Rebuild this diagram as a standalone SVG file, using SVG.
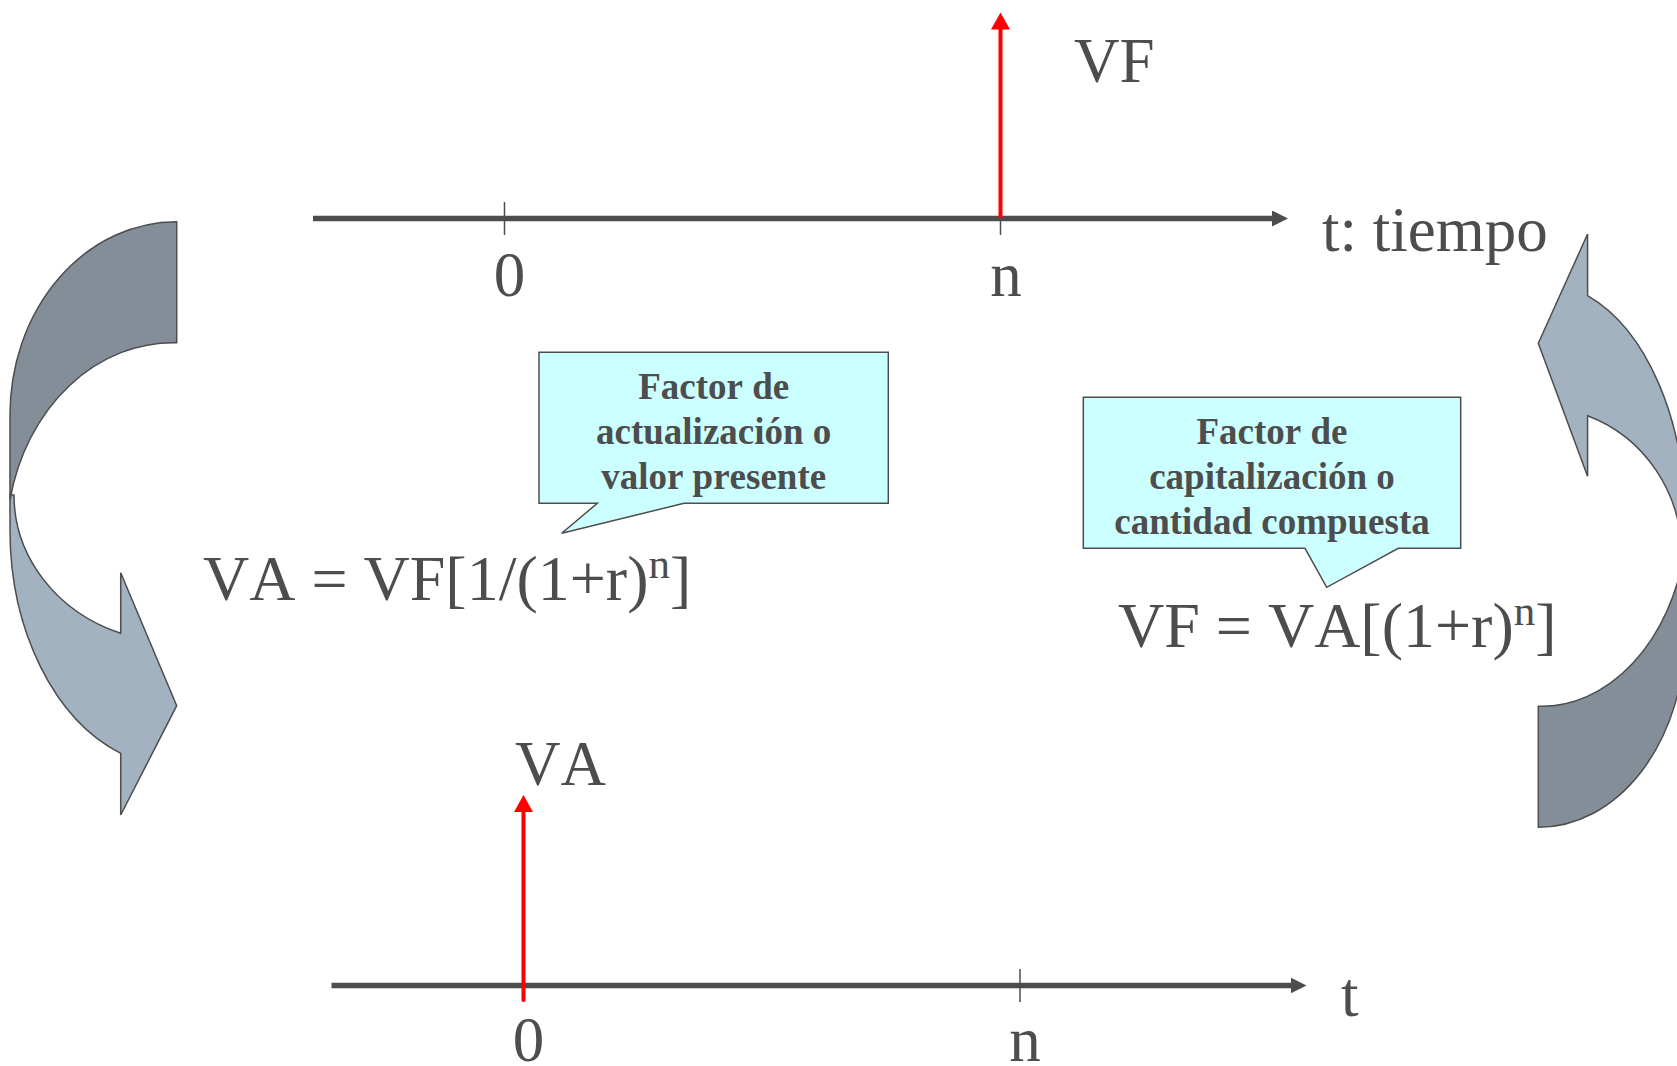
<svg xmlns="http://www.w3.org/2000/svg" xmlns:xlink="http://www.w3.org/1999/xlink" width="1677" height="1066" viewBox="0 0 1677 1066">
<style>
text{font-family:"Liberation Serif","Times New Roman",serif;fill:#4d4d4d;font-kerning:none}
.big{font-size:63px}
.form{font-size:64px}
.sup{font-size:43px}
.lbl{font-size:37px;font-weight:bold;text-anchor:middle}
.mid{text-anchor:middle}
.axis{stroke:#4d4d4d;stroke-width:5.7;fill:none}
.tick{stroke:#4d4d4d;stroke-width:1.5}
.red{stroke:#ff0000;stroke-width:4;fill:none}
.dark{fill:#848e99;stroke:#4d4d4d;stroke-width:1.5;vector-effect:non-scaling-stroke}
.light{fill:#a3b2c1;stroke:#4d4d4d;stroke-width:1.5;vector-effect:non-scaling-stroke}
.callout{fill:#ccffff;stroke:#4d4d4d;stroke-width:1.5}
</style>
<defs>
<marker id="axHead" markerUnits="userSpaceOnUse" markerWidth="16" markerHeight="16" viewBox="0 0 16 16" refX="1" refY="8" orient="auto">
<path d="M0,0 L16,8 L0,16 Z" fill="#4d4d4d"/>
</marker>
<marker id="redHead" markerUnits="userSpaceOnUse" markerWidth="17" markerHeight="19" viewBox="0 0 17 19" refX="1" refY="9.5" orient="auto">
<path d="M0,0 L17,9.5 L0,19 Z" fill="#ff0000"/>
</marker>
<g id="curvedArrow">
<path class="light" d="M10,495 L10,530 A166.7,237 0 0 0 120.7,753.3 L120.7,815 L176.7,705.7 L120.7,572.7 L120.7,633.3 A162.7,147.3 0 0 1 14,495 Z"/>
<path class="dark" d="M176.7,221.7 A166.7,193.3 0 0 0 10,415 L10,500 A166.7,197.3 0 0 1 176.7,342.7 Z"/>
</g>
</defs>

<g id="arrow-left">
<use xlink:href="#curvedArrow" href="#curvedArrow"/>
</g>
<g id="arrow-right">
<use xlink:href="#curvedArrow" href="#curvedArrow" transform="matrix(-0.88 0 0 -1 1693.8 1049)"/>
</g>

<g id="connectors">
<line class="axis" x1="313" y1="218.5" x2="1273" y2="218.5" marker-end="url(#axHead)"/>
<line class="tick" x1="504.5" y1="202" x2="504.5" y2="235"/>
<line class="tick" x1="1000.5" y1="202" x2="1000.5" y2="235"/>
<line class="red" x1="1000.5" y1="218" x2="1000.5" y2="28.5" marker-end="url(#redHead)"/>

<line class="axis" x1="331.5" y1="985.5" x2="1291.5" y2="985.5" marker-end="url(#axHead)"/>
<line class="tick" x1="523.5" y1="969" x2="523.5" y2="1002"/>
<line class="tick" x1="1020" y1="969" x2="1020" y2="1002"/>
<line class="red" x1="523.5" y1="1001.5" x2="523.5" y2="811" marker-end="url(#redHead)"/>
</g>

<g id="top-timeline-labels">
<text class="big" x="1074" y="82">VF</text>
<text class="big" x="1322" y="251">t: tiempo</text>
<text class="big mid" x="509.5" y="295.5">0</text>
<text class="big mid" x="1006" y="295.5">n</text>
</g>

<g id="callout-actualizacion">
<path class="callout" d="M539,352.3 L888.3,352.3 L888.3,503.3 L684,503.3 L561.7,533.3 L597.3,503.3 L539,503.3 Z"/>
<text class="lbl" x="713.7" y="399">Factor de</text>
<text class="lbl" x="713.7" y="444">actualización o</text>
<text class="lbl" x="713.7" y="489">valor presente</text>
</g>

<g id="callout-capitalizacion">
<path class="callout" d="M1083.3,397.3 L1460.7,397.3 L1460.7,548.3 L1398.3,548.3 L1326.7,587.3 L1305,548.3 L1083.3,548.3 Z"/>
<text class="lbl" x="1272" y="444">Factor de</text>
<text class="lbl" x="1272" y="489">capitalización o</text>
<text class="lbl" x="1272" y="534">cantidad compuesta</text>
</g>

<g id="formula-va">
<text class="form" x="203" y="600">VA = VF[1/(1+r)<tspan class="sup" dy="-22">n</tspan><tspan dy="22">]</tspan></text>
</g>

<g id="formula-vf">
<text class="form" x="1118" y="647">VF = VA[(1+r)<tspan class="sup" dy="-22">n</tspan><tspan dy="22">]</tspan></text>
</g>

<g id="bottom-timeline-labels">
<text class="big" x="515" y="785">VA</text>
<text class="big mid" x="528.5" y="1061">0</text>
<text class="big mid" x="1025" y="1061">n</text>
<text class="big" x="1341" y="1016">t</text>
</g>
</svg>
